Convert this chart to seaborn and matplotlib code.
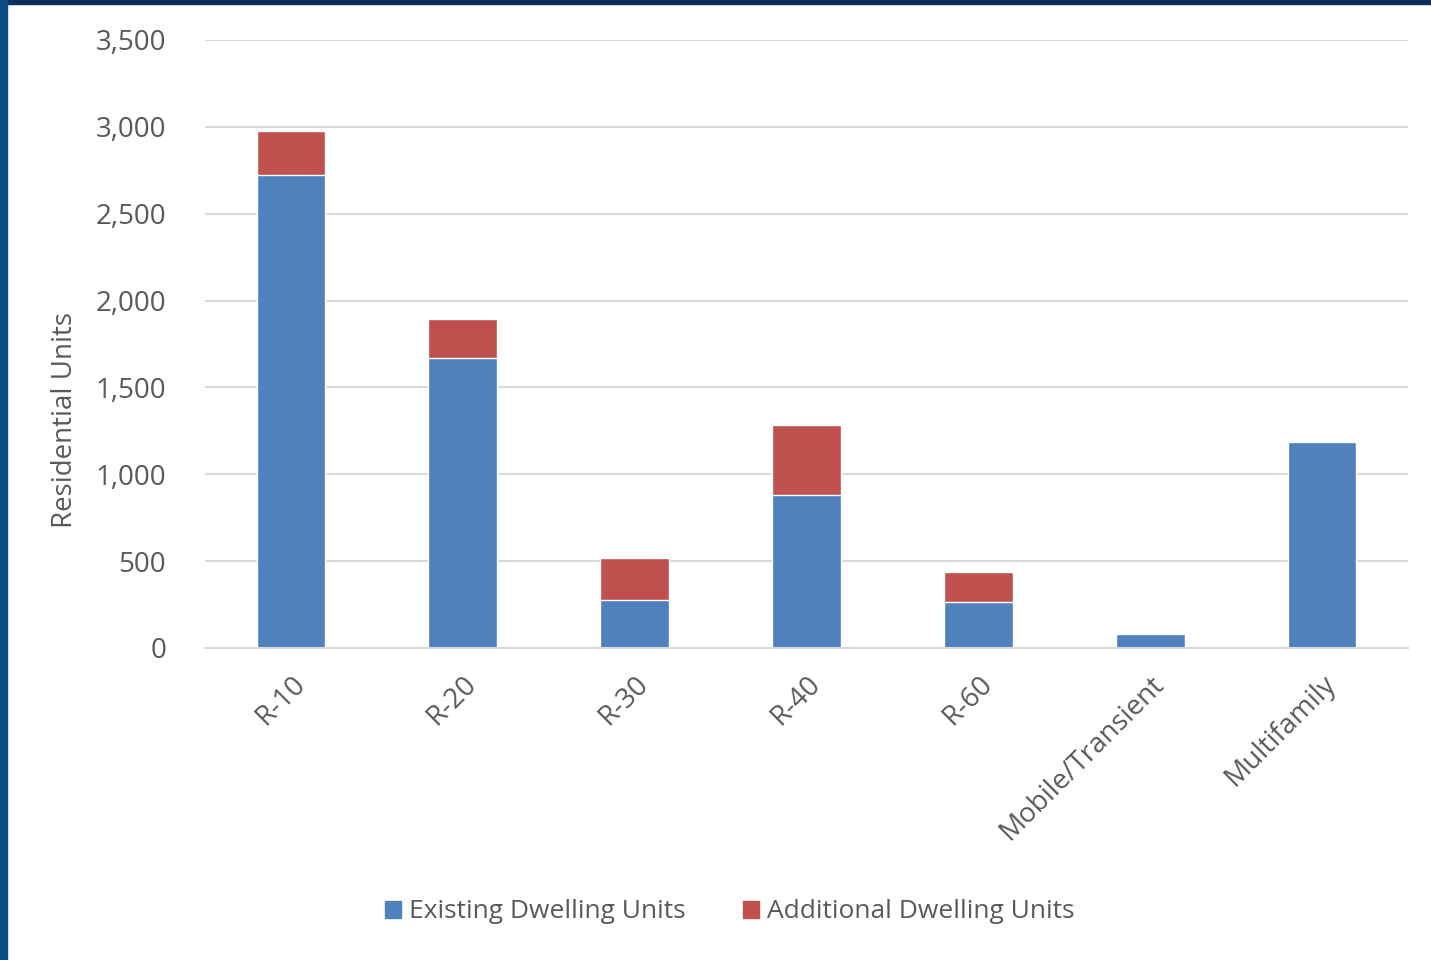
import seaborn as sns
import numpy as np
import pandas as pd
import matplotlib.pyplot as plt
from matplotlib.patches import Patch, Rectangle

# data
zones = ['R-10', 'R-20', 'R-30', 'R-40', 'R-60', 'Mobile/Transient', 'Multifamily']
existing = [2720, 1670, 276, 881, 265, 81, 1186]
additional = [255, 225, 242, 403, 173, 0, 0]

df = pd.DataFrame({'zone': zones, 'existing': existing, 'additional': additional})
df['total'] = df['existing'] + df['additional']

blue = '#4f81bd'
red = '#c0504d'
txt = '#595959'

sns.set_theme(style='white')
plt.rcParams['font.family'] = ['Open Sans', 'DejaVu Sans']

fig = plt.figure(figsize=(14.31, 9.6), dpi=100)
ax = fig.add_axes([205 / 1431, 1 - 648 / 960, (1408 - 205) / 1431, (648 - 40) / 960])

# stacked: draw totals in red, then existing in blue over it
sns.barplot(data=df, x='zone', y='total', color=red, width=0.4, saturation=1, ax=ax)
sns.barplot(data=df, x='zone', y='existing', color=blue, width=0.4, saturation=1, ax=ax)

ax.set_ylim(0, 3500)
ax.set_xlim(-0.5, len(zones) - 0.5)
ax.set_yticks(np.arange(0, 3501, 500))
ax.set_yticklabels([f'{v:,}' for v in range(0, 3501, 500)], color=txt, fontsize=20)
ax.yaxis.grid(True, color='#d9d9d9', linewidth=1.5)
ax.set_axisbelow(True)
for s in ['top', 'right', 'left']:
    ax.spines[s].set_visible(False)
ax.spines['bottom'].set_color('#d9d9d9')
ax.spines['bottom'].set_linewidth(1.5)
ax.tick_params(axis='y', length=0, pad=28)
ax.tick_params(axis='x', length=0, pad=16)
plt.setp(ax.get_xticklabels(), rotation=45, ha='right', rotation_mode='anchor',
         color=txt, fontsize=20)
ax.set_xlabel('')
ax.set_ylabel('Residential Units', color=txt, fontsize=20)
ax.yaxis.set_label_coords(-0.105, 0.375)

handles = [Patch(color=blue, label='Existing Dwelling Units'),
           Patch(color=red, label='Additional Dwelling Units')]
leg = fig.legend(handles=handles, loc='center', bbox_to_anchor=(0.51, 1 - 912 / 960),
                 ncol=2, frameon=False, fontsize=19, handlelength=0.6, handleheight=0.6,
                 handletextpad=0.3, columnspacing=2.2)
for t in leg.get_texts():
    t.set_color(txt)

# frame around the slide
fig.patches.append(Rectangle((0, 1 - 4 / 960), 1, 4 / 960, transform=fig.transFigure,
                             color='#0b2f5a', zorder=10))
fig.patches.append(Rectangle((0, 0), 7 / 1431, 1, transform=fig.transFigure,
                             color='#0b4a84', zorder=10))

fig.savefig('out.png', dpi=100, facecolor='white')
